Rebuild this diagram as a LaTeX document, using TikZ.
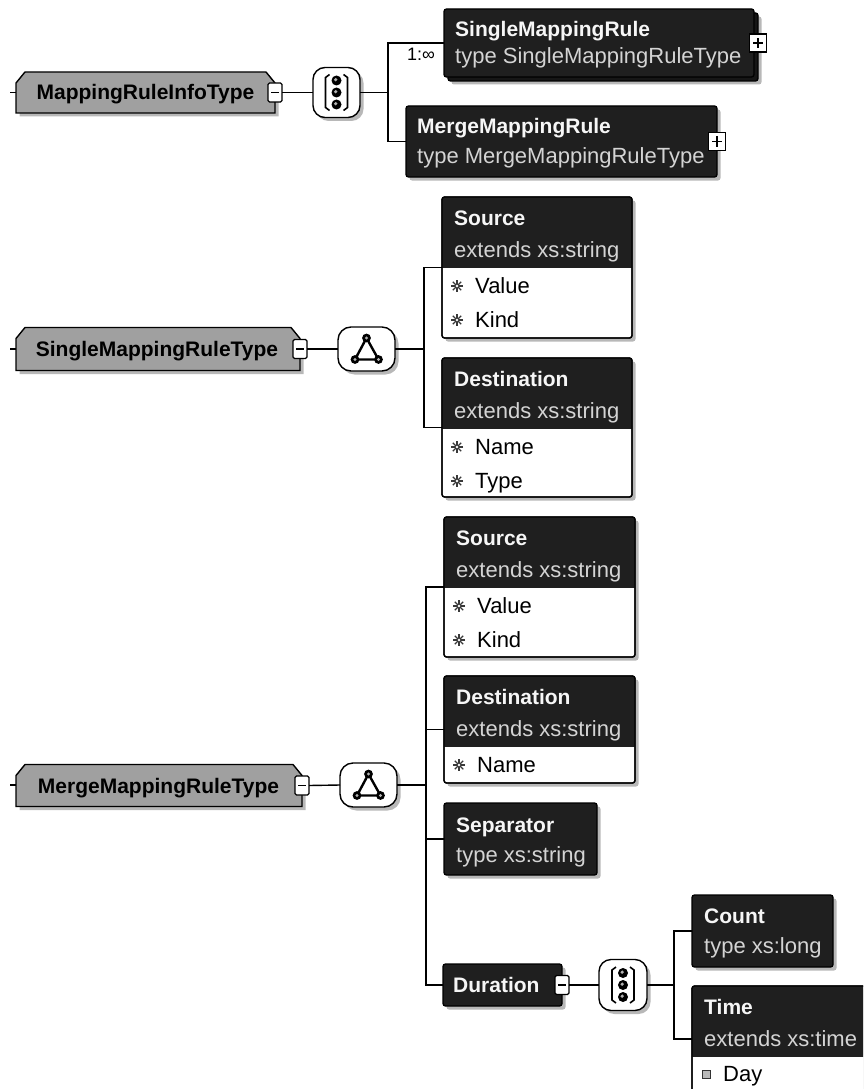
\documentclass[tikz,border=0pt]{standalone}
\usepackage{fontspec}
\setmainfont{Liberation Sans}
\usetikzlibrary{shadows,calc}
\definecolor{hdr}{HTML}{1F1F1F}
\definecolor{tgray}{HTML}{A0A0A0}
\definecolor{subtxt}{HTML}{D4D4D4}
\definecolor{ttltxt}{HTML}{F6F6F6}
\tikzset{
  ln/.style={line width=1.4pt, draw=black},
  shd/.style={drop shadow={shadow xshift=3.5pt, shadow yshift=-3.5pt, fill=black, opacity=0.28}},
  gshape/.style={draw=black, line width=1.4pt, fill=tgray, shd},
  gbox/.style={inner sep=0pt, outer sep=0pt},
  gtext/.style={font=\fontsize{21}{24}\selectfont\bfseries, text=black, anchor=base, inner sep=0pt},
  ebody/.style={draw=black, line width=1.3pt, fill=white, rounded corners=2.5pt, inner sep=0pt, outer sep=0pt, anchor=north west, shd},
  ehdr/.style={fill=hdr, inner sep=0pt, outer sep=0pt, anchor=north west},
  hdrbox/.style={draw=black, line width=1.3pt, fill=hdr, rounded corners=2.5pt, inner sep=0pt, outer sep=0pt, anchor=north west, shd},
  ttl/.style={font=\fontsize{21}{24}\selectfont\bfseries, text=ttltxt, anchor=base west, inner sep=0pt},
  subln/.style={font=\fontsize{22}{24}\selectfont, text=subtxt, anchor=base west, inner sep=0pt},
  itm/.style={font=\fontsize{22}{24}\selectfont, text=black, anchor=base west, inner sep=0pt},
  comp/.style={draw=black, line width=1.4pt, fill=white, inner sep=0pt, outer sep=0pt, shd},
  minusbox/.style={draw=black, line width=1.2pt, fill=white, minimum width=14pt, minimum height=19pt, inner sep=0pt, outer sep=0pt, rounded corners=1.5pt},
  plusbox/.style={draw=black, line width=1.2pt, fill=white, minimum width=17pt, minimum height=18pt, inner sep=0pt, outer sep=0pt},
  occ/.style={font=\fontsize{18}{20}\selectfont, anchor=base west, inner sep=0pt},
}
\newcommand\seqsym[1]{%
  \draw[line width=1.6pt] ([shift={(-7,-18)}]#1.center) -- ([shift={(-11,-15)}]#1.center) -- ([shift={(-11,15)}]#1.center) -- ([shift={(-7,18)}]#1.center);
  \draw[line width=1.6pt] ([shift={(7,-18)}]#1.center) -- ([shift={(11,-15)}]#1.center) -- ([shift={(11,15)}]#1.center) -- ([shift={(7,18)}]#1.center);
  \foreach \dy in {-12,0,12} {
    \fill[black] ([shift={(0,\dy)}]#1.center) circle (5pt);
    \fill[gray!60] ([shift={(-0.8,{\dy-0.8})}]#1.center) circle (1.8pt);
  }%
}
\newcommand\allsym[1]{%
  \draw[line width=2.4pt, line join=round] ([shift={(0,-11)}]#1.center) -- ([shift={(-11.5,10.5)}]#1.center) -- ([shift={(12,10.5)}]#1.center) -- cycle;
  \foreach \dx/\dy in {0/-11,-11.5/10.5,12/10.5} {
    \fill[black] ([shift={(\dx,\dy)}]#1.center) circle (4.4pt);
    \fill[gray!60] ([shift={(\dx,\dy)}]#1.center) circle (1.7pt);
  }%
}
\newcommand\minussign{}
\renewcommand\minussign[1]{\draw[line width=1.3pt] ([xshift=-4pt]#1.center) -- ([xshift=4pt]#1.center);}
\newcommand\plussign[1]{\draw[line width=1.3pt] ([xshift=-5pt]#1.center) -- ([xshift=5pt]#1.center) ([yshift=-5pt]#1.center) -- ([yshift=5pt]#1.center);}
% #1 box node, #2 baseline offset from top, #3 text node name, #4 text
\newcommand\attrrow[4]{%
  \foreach \a in {0,45,90,135} \draw[line width=1.1pt, gray!45!black] ([xshift=15pt,yshift=-#2pt+7pt]#1.north west) ++(\a:6pt) -- ++(\a+180:12pt);
  \fill[white] ([xshift=15pt,yshift=-#2pt+7pt]#1.north west) circle (1.3pt);
  \node[itm] (#3) at ([xshift=33pt,yshift=-#2pt]#1.north west) {#4};
}
\begin{document}
\begin{tikzpicture}[x=1pt,y=-1pt]
\useasboundingbox (0,0) rectangle (863,1089);
\clip (0,0) rectangle (863,1089);
\fill[white] (0,0) rectangle (863,1089);

% ---------------- Row 1 ----------------
\coordinate (s1) at (10,92.5);
\node[gbox, minimum width=259pt, minimum height=41pt] (g1) at (145.5,92.5) {};
\path[gshape] ([yshift=-11pt]g1.north west) -- ([xshift=9pt]g1.north west) -- ([xshift=-9pt]g1.north east) -- ([yshift=-11pt]g1.north east) -- (g1.south east) -- (g1.south west) -- cycle;
\node[gtext] (g1t) at ([yshift=-7.5pt]g1.center) {MappingRuleInfoType};
\draw[ln] (s1) -- (g1.west);
\node[minusbox] (m1) at (g1.east) {};
\minussign{m1}
\node[comp, minimum width=47pt, minimum height=50pt, rounded corners=12pt] (c1) at (336.5,92.5) {};
\seqsym{c1}
\draw[ln] (m1.east) -- (c1.west);
\coordinate (b1) at (388,92.5);
\draw[ln] (c1.east) -- (b1);

\node[hdrbox, minimum width=310pt, minimum height=68pt] (smb) at (448,13) {};
\node[hdrbox, minimum width=310pt, minimum height=68pt] (sm) at (444,9) {};
\node[ttl] (smt) at ([xshift=11pt,yshift=-28pt]sm.north west) {SingleMappingRule};
\node[subln] (sms) at ([xshift=11pt,yshift=-55pt]sm.north west) {type SingleMappingRuleType};
\node[plusbox] (p1) at (sm.east -| smb.east) {};
\plussign{p1}

\node[hdrbox, minimum width=311pt, minimum height=71pt] (mm) at (406,106) {};
\node[ttl] (mmt) at ([xshift=11pt,yshift=-28pt]mm.north west) {MergeMappingRule};
\node[subln] (mms) at ([xshift=11pt,yshift=-57pt]mm.north west) {type MergeMappingRuleType};
\node[plusbox] (p2) at (mm.east) {};
\plussign{p2}

\draw[ln] (sm.west) -| (b1) |- (mm.west);
\node[occ] (occ1) at (407,61) {1:∞};

% ---------------- Row 2 ----------------
\coordinate (s2) at (10,349);
\node[gbox, minimum width=284pt, minimum height=43pt] (g2) at (158,349) {};
\path[gshape] ([yshift=-11pt]g2.north west) -- ([xshift=9pt]g2.north west) -- ([xshift=-9pt]g2.north east) -- ([yshift=-11pt]g2.north east) -- (g2.south east) -- (g2.south west) -- cycle;
\node[gtext] (g2t) at ([xshift=-1pt,yshift=-7.5pt]g2.center) {SingleMappingRuleType};
\draw[ln] (s2) -- (g2.west);
\node[minusbox] (m2) at (g2.east) {};
\minussign{m2}
\node[comp, minimum width=57pt, minimum height=44pt, rounded corners=13pt] (c2) at (366.5,349) {};
\allsym{c2}
\draw[ln] (m2.east) -- (c2.west);
\coordinate (b2) at (424,349);
\draw[ln] (c2.east) -- (b2);

% Source (row 2)
\node[ebody, minimum width=190pt, minimum height=141pt] (src2) at (442,197) {};
\node[ehdr, minimum width=190pt, minimum height=71pt] (src2h) at (src2.north west) {};
\draw[line width=1.3pt, rounded corners=2.5pt] (src2.north west) rectangle (src2.south east);
\node[ttl] (src2t) at ([xshift=12pt,yshift=-28pt]src2.north west) {Source};
\node[subln] (src2s) at ([xshift=12pt,yshift=-60pt]src2.north west) {extends xs:string};
\attrrow{src2}{96}{src2a}{Value}
\attrrow{src2}{130}{src2b}{Kind}

% Destination (row 2)
\node[ebody, minimum width=190pt, minimum height=139pt] (dst2) at (442,358) {};
\node[ehdr, minimum width=190pt, minimum height=71pt] (dst2h) at (dst2.north west) {};
\draw[line width=1.3pt, rounded corners=2.5pt] (dst2.north west) rectangle (dst2.south east);
\node[ttl] (dst2t) at ([xshift=12pt,yshift=-28pt]dst2.north west) {Destination};
\node[subln] (dst2s) at ([xshift=12pt,yshift=-60pt]dst2.north west) {extends xs:string};
\attrrow{dst2}{96}{dst2a}{Name}
\attrrow{dst2}{130}{dst2b}{Type}

\draw[ln] (src2.west) -| (b2) |- (dst2.west);

% ---------------- Row 3 ----------------
\coordinate (s3) at (10,785);
\node[gbox, minimum width=286pt, minimum height=42pt] (g3) at (159,785.5) {};
\path[gshape] ([yshift=-11pt]g3.north west) -- ([xshift=9pt]g3.north west) -- ([xshift=-9pt]g3.north east) -- ([yshift=-11pt]g3.north east) -- (g3.south east) -- (g3.south west) -- cycle;
\node[gtext] (g3t) at ([xshift=-0.5pt,yshift=-7.5pt]g3.center) {MergeMappingRuleType};
\draw[ln] (s3) -- (s3 -| g3.west);
\node[minusbox] (m3) at (g3.east) {};
\minussign{m3}
\node[comp, minimum width=57pt, minimum height=44pt, rounded corners=13pt] (c3) at (368.5,785) {};
\allsym{c3}
\draw[ln] (m3.east) -- (c3.west);
\coordinate (b3) at (426,785);
\draw[ln] (c3.east) -- (b3);

% Source (row 3)
\node[ebody, minimum width=191pt, minimum height=140pt] (src3) at (444,517) {};
\node[ehdr, minimum width=191pt, minimum height=71pt] (src3h) at (src3.north west) {};
\draw[line width=1.3pt, rounded corners=2.5pt] (src3.north west) rectangle (src3.south east);
\node[ttl] (src3t) at ([xshift=12pt,yshift=-28pt]src3.north west) {Source};
\node[subln] (src3s) at ([xshift=12pt,yshift=-60pt]src3.north west) {extends xs:string};
\attrrow{src3}{96}{src3a}{Value}
\attrrow{src3}{130}{src3b}{Kind}

% Destination (row 3)
\node[ebody, minimum width=191pt, minimum height=107pt] (dst3) at (444,676) {};
\node[ehdr, minimum width=191pt, minimum height=71pt] (dst3h) at (dst3.north west) {};
\draw[line width=1.3pt, rounded corners=2.5pt] (dst3.north west) rectangle (dst3.south east);
\node[ttl] (dst3t) at ([xshift=12pt,yshift=-28pt]dst3.north west) {Destination};
\node[subln] (dst3s) at ([xshift=12pt,yshift=-60pt]dst3.north west) {extends xs:string};
\attrrow{dst3}{96}{dst3a}{Name}

% Separator
\node[hdrbox, minimum width=153pt, minimum height=72pt] (sep) at (444,803) {};
\node[ttl] (sept) at ([xshift=12pt,yshift=-29pt]sep.north west) {Separator};
\node[subln] (seps) at ([xshift=12pt,yshift=-59pt]sep.north west) {type xs:string};

% Duration
\node[hdrbox, anchor=center, minimum width=119pt, minimum height=42pt] (dur) at (502.5,985) {};
\node[ttl] (durt) at ([xshift=10pt,yshift=-7.5pt]dur.west) {Duration};
\node[minusbox] (md) at (dur.east) {};
\minussign{md}

\draw[ln] (src3.west) -| (b3) |- (dur.west);
\draw[ln] (dst3.west) -| (b3);
\draw[ln] (sep.west) -| (b3);

% Duration sequence
\node[comp, minimum width=48pt, minimum height=51pt, rounded corners=12pt] (c4) at (623,985) {};
\seqsym{c4}
\draw[ln] (md.east) -- (c4.west);
\coordinate (b4) at (674,985);
\draw[ln] (c4.east) -- (b4);

% Count
\node[hdrbox, minimum width=141pt, minimum height=72pt] (cnt) at (692,895) {};
\node[ttl] (cntt) at ([xshift=12pt,yshift=-28pt]cnt.north west) {Count};
\node[subln] (cnts) at ([xshift=12pt,yshift=-58pt]cnt.north west) {type xs:long};

% Time
\node[ebody, minimum width=190pt, minimum height=106pt] (tim) at (692,986) {};
\node[ehdr, minimum width=190pt, minimum height=71pt] (timh) at (tim.north west) {};
\draw[line width=1.3pt, rounded corners=2.5pt] (tim.north west) rectangle (tim.south east);
\node[ttl] (timt) at ([xshift=12pt,yshift=-28pt]tim.north west) {Time};
\node[subln] (tims) at ([xshift=12pt,yshift=-60pt]tim.north west) {extends xs:time};
\node[draw=black!80, line width=0.8pt, fill=gray!55, minimum size=8pt, inner sep=0pt] (dayic) at ([xshift=14pt,yshift=-88pt]tim.north west) {};
\node[itm] (timd) at ([xshift=31pt,yshift=-95pt]tim.north west) {Day};

\draw[ln] (cnt.west) -| (b4) |- (tim.west);
\end{tikzpicture}
\end{document}
